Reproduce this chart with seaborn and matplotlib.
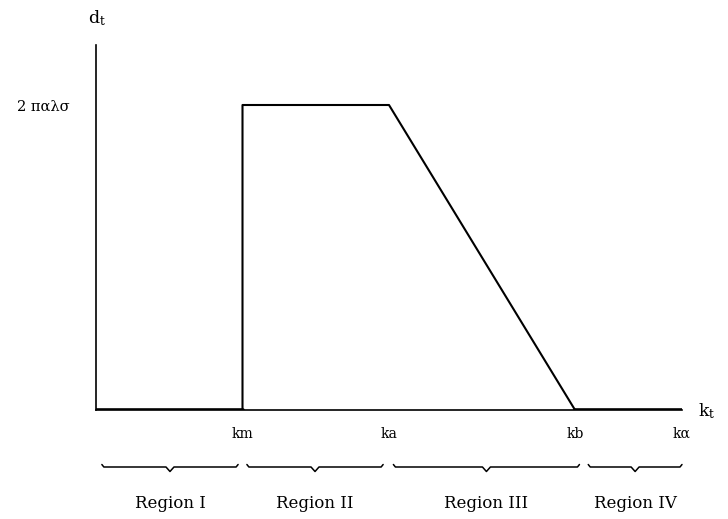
import matplotlib
matplotlib.use("Agg")
import matplotlib.pyplot as plt
import matplotlib.transforms as mtransforms
import seaborn as sns
import pandas as pd

# ---- data ----
k_vals = [0.0, 1.0, 1.0, 2.0, 3.27, 4.0]
d_vals = [0.0, 0.0, 1.0, 1.0, 0.0, 0.0]
zero_left = [0.0, 1.0]
zero_right = [3.27, 4.0]
k_ticks = [1.0, 2.0, 3.27, 4.0]
k_tick_labels = ["km", "ka", "kb", "kα"]
d_ticks = [1.0]
d_tick_labels = ["2 παλσ"]
region_names = ["Region I", "Region II", "Region III", "Region IV"]
region_starts = [0.04, 1.03, 2.03, 3.36]
region_ends = [0.97, 1.96, 3.30, 4.00]

sns.set_theme(style="white")
plt.rcParams["font.family"] = ["DejaVu Serif"]
plt.rcParams["mathtext.fontset"] = "dejavuserif"

fig = plt.figure(figsize=(7.28, 5.19), dpi=100)
ax = fig.add_axes([96 / 728, 1 - 410 / 519, (682 - 96) / 728, (410 - 45) / 519])

df = pd.DataFrame({"k": k_vals, "d": d_vals})
sns.lineplot(data=df, x="k", y="d", sort=False, estimator=None, errorbar=None,
             color="black", linewidth=1.5, ax=ax)
for seg in (zero_left, zero_right):
    sns.lineplot(x=seg, y=[0.0, 0.0], estimator=None, errorbar=None,
                 color="black", linewidth=2.6, ax=ax)

ax.set_xlim(0, 4.0)
ax.set_ylim(0, 365 / 305)
ax.set_xlabel("")
ax.set_ylabel("")

for s in ("top", "right"):
    ax.spines[s].set_visible(False)
for s in ("left", "bottom"):
    ax.spines[s].set_color("black")
    ax.spines[s].set_linewidth(1.2)

ax.set_xticks(k_ticks)
ax.set_xticklabels(k_tick_labels, fontsize=10)
ax.set_yticks(d_ticks)
ax.set_yticklabels(d_tick_labels, fontsize=10.5)
ax.tick_params(axis="x", direction="in", length=3, width=1, pad=12, colors="black")
ax.tick_params(axis="y", direction="in", length=4, width=1, pad=19, colors="black")
for lab in ax.get_xticklabels() + ax.get_yticklabels():
    lab.set_color("black")

# axis names
fig.text(97 / 728, 1 - 28 / 519, r"$\mathrm{d_t}$", ha="center", va="bottom", fontsize=12.5, color="black")
fig.text(698 / 728, 1 - 411 / 519, r"$\mathrm{k_t}$", ha="left", va="center", fontsize=12.5, color="black")

# braces
trans = mtransforms.blended_transform_factory(ax.transData, fig.transFigure)
yb = 1 - 467 / 519
hook = 2.5 / 519
tip = 4.5 / 519
dx_px = 1 / 147.0
for name, x0, x1 in zip(region_names, region_starts, region_ends):
    xm = (x0 + x1) / 2
    xs = [x0, x0 + 2 * dx_px, xm - 4 * dx_px, xm, xm + 4 * dx_px, x1 - 2 * dx_px, x1]
    ys = [yb + hook, yb, yb, yb - tip, yb, yb, yb + hook]
    ax.plot(xs, ys, color="black", linewidth=1.1, transform=trans, clip_on=False)
    ax.text(xm, 1 - 503 / 519, name, transform=trans, ha="center", va="center",
            fontsize=12, color="black")

fig.savefig("out.png", dpi=100, facecolor="white")
